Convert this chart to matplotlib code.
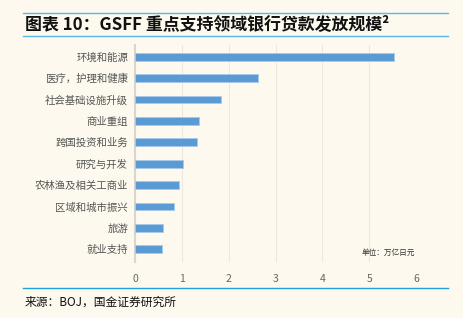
import matplotlib.pyplot as plt
from matplotlib.lines import Line2D

plt.rcParams['font.family'] = ['Noto Sans CJK SC', 'DejaVu Sans']

categories = ['环境和能源', '医疗，护理和健康', '社会基础设施升级', '商业重组', '跨国投资和业务',
              '研究与开发', '农林渔及相关工商业', '区域和城市振兴', '旅游', '就业支持']
values = [5.53, 2.62, 1.84, 1.37, 1.32, 1.03, 0.94, 0.83, 0.59, 0.57]
xticks = [0, 1, 2, 3, 4, 5, 6]

bg = '#fdf9ee'
fig = plt.figure(figsize=(4.64, 3.18), dpi=100, facecolor=bg)
ax = fig.add_axes([135 / 464, 1 - 262 / 318, (416 - 135) / 464, (262 - 45) / 318])
ax.set_facecolor(bg)

ypos = list(range(len(categories)))[::-1]
ax.barh(ypos, values, height=0.36, color='#5b9bd5', edgecolor='#a9c9ea', linewidth=0.6, zorder=3)
ax.set_yticks(ypos)
ax.set_yticklabels(categories, fontsize=7.5, color='#555555')
ax.set_ylim(-0.6, len(categories) - 0.45)
ax.set_xlim(0, 6)
ax.set_xticks(xticks)
ax.set_xticklabels([str(t) for t in xticks], fontsize=7.5, color='#666666')
ax.tick_params(axis='both', length=0)
ax.tick_params(axis='x', pad=9)
ax.tick_params(axis='y', pad=5)
ax.grid(axis='x', color='#ebe8e0', linewidth=0.8, zorder=0)
for s in ['top', 'right', 'bottom']:
    ax.spines[s].set_visible(False)
ax.spines['left'].set_color('#d9d6ce')
ax.spines['left'].set_linewidth(1.5)

ax.text(0.995, 0.04, '单位：万亿日元', transform=ax.transAxes, fontsize=5.5, color='#333333',
        ha='right', va='center')

# header / footer rules
fig.add_artist(Line2D([23 / 464, 448 / 464], [1 - 13 / 318] * 2, color='#5bb5e5', linewidth=1.0))
fig.add_artist(Line2D([23 / 464, 448 / 464], [1 - 36 / 318] * 2, color='#5bb5e5', linewidth=1.0))
fig.add_artist(Line2D([23 / 464, 448 / 464], [1 - 288 / 318] * 2, color='#1ea0dc', linewidth=1.0))

fig.text(25 / 464, 1 - 24.5 / 318, '图表 10：GSFF 重点支持领域银行贷款发放规模²', fontsize=12.2,
         fontweight='bold', color='#111111', va='center', ha='left')
fig.text(25 / 464, 1 - 302 / 318, '来源：BOJ，国金证券研究所', fontsize=8.5, color='#111111',
         va='center', ha='left')

fig.savefig('out.png', dpi=100, facecolor=bg)
